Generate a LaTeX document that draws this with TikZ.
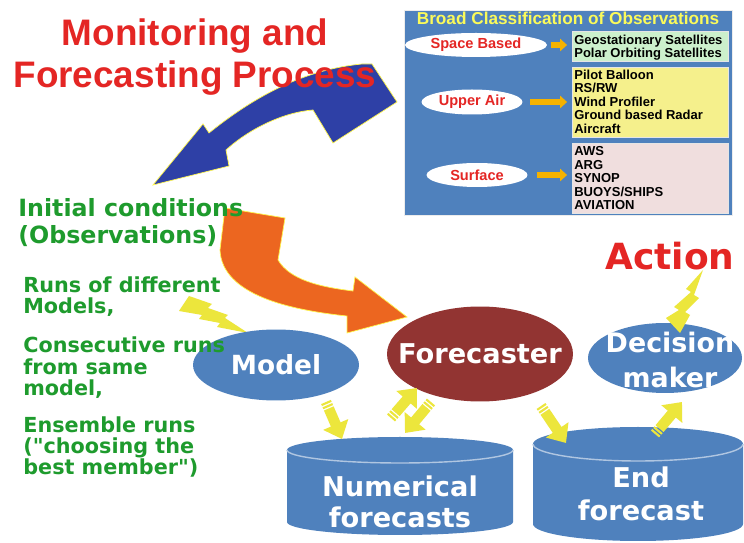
\documentclass[tikz,border=0pt]{standalone}
\usepackage{fontspec}
\setmainfont{DejaVu Sans}[Ligatures=TeXOff]
\newfontfamily\arialfont{Liberation Sans}
\usepackage{tikz}
\usetikzlibrary{shapes.geometric, arrows.meta}

\definecolor{titlered}{RGB}{228,38,36}
\definecolor{textgreen}{RGB}{30,155,45}
\definecolor{officeblue}{RGB}{79,129,189}
\definecolor{darkred}{RGB}{146,52,50}
\definecolor{arrowblue}{RGB}{46,64,166}
\definecolor{arroworange}{RGB}{236,102,32}
\definecolor{boltyellow}{RGB}{236,230,60}
\definecolor{tipyellow}{RGB}{245,178,0}
\definecolor{obsgreen}{RGB}{204,240,204}
\definecolor{obsyellow}{RGB}{245,240,140}
\definecolor{obspink}{RGB}{240,222,222}
\definecolor{obstitle}{RGB}{250,250,90}

\begin{document}
\begin{tikzpicture}[x=0.02cm, y=-0.02cm, every node/.style={inner sep=0pt},
  greentext/.style={anchor=north west, align=left, text=textgreen, font=\bfseries\fontsize{11.8}{12.2}\selectfont},
  bubble/.style={ellipse, fill=officeblue},
  labeltext/.style={text=white, align=center, font=\bfseries\fontsize{15.5}{18}\selectfont},
  obsbubble/.style={ellipse, fill=white, text=titlered, font=\arialfont\bfseries\fontsize{8.3}{9}\selectfont},
  obsbox/.style={draw=white!80!gray, anchor=north west, minimum width=3.12cm},
  obslist/.style={anchor=north west, align=left, font=\arialfont\bfseries\fontsize{7.4}{7.65}\selectfont},
  obsarrow/.style={draw=tipyellow, line width=3.4pt, -{Triangle[width=7pt, length=4pt]}},
  blockarrow/.style={draw=boltyellow, line width=6pt, -{Triangle[width=15pt, length=9pt]}, dash pattern=on 1.2pt off 0.8pt on 1.2pt off 0.8pt on 200pt off 0pt}]

\path[use as bounding box, fill=white] (0,0) rectangle (744,543);

% Observation panel
\node (panel) [draw=white!85!gray, fill=officeblue, anchor=north west, minimum width=6.56cm, minimum height=4.1cm] at (404,10) {};
\node (paneltitle) [text=obstitle, font=\arialfont\bfseries\fontsize{9.8}{11}\selectfont] at (568,18.7) {Broad Classification of Observations};

\node (space) [obsbubble, minimum width=2.84cm, minimum height=0.48cm] at (476,45) {Space Based};
\node (upper) [obsbubble, minimum width=2.02cm, minimum height=0.5cm] at (472,102) {Upper Air};
\node (surface) [obsbubble, minimum width=2.02cm, minimum height=0.48cm] at (477,175) {Surface};

\node (spacebox) [obsbox, fill=obsgreen, minimum height=0.6cm] at (572,31) {};
\node (upperbox) [obsbox, fill=obsyellow, minimum height=1.4cm] at (572,67) {};
\node (surfacebox) [obsbox, fill=obspink, minimum height=1.4cm] at (572,143) {};

\node (spacelist) [obslist] at (574,34.5) {Geostationary Satellites\\Polar Orbiting Satellites};
\node (upperlist) [obslist] at (574,69.5) {Pilot Balloon\\RS/RW\\Wind Profiler\\Ground based Radar\\Aircraft};
\node (surfacelist) [obslist] at (574,146.5) {AWS\\ARG\\SYNOP\\BUOYS/SHIPS\\AVIATION};

\draw[obsarrow, shorten <=2.3pt, shorten >=2.8pt] (space.east) -- (space.east -| spacebox.west);
\draw[obsarrow, shorten <=4pt, shorten >=2.8pt] (upper.east) -- (upper.east -| upperbox.west);
\draw[obsarrow, shorten <=5pt, shorten >=2.8pt] (surface.east) -- (surface.east -| surfacebox.west);

% Big curved arrows
\filldraw[fill=arrowblue, draw=yellow!70!white, line width=0.4pt] (153,185) -- (203,124) -- (209,133)
  .. controls (250,100) and (300,70) .. (362,64) -- (372,64) -- (397,102) -- (333,143) -- (313,110)
  .. controls (285,112) and (250,128) .. (226,150) -- (229,166) -- cycle;
\filldraw[fill=arroworange, draw=yellow!70!white, line width=0.4pt] (225,208) -- (285,218) -- (278,260)
  .. controls (290,280) and (320,287) .. (353,291) -- (355,277) -- (407,317) -- (347,333) -- (347,316)
  .. controls (290,310) and (222,295) .. (220,250) -- cycle;

% Lightning to the model
\fill[boltyellow] (189,296) -- (212,304) -- (208,308) -- (228,315) -- (225,318) -- (248,333)
  -- (217,327) -- (220,323) -- (199,319) -- (202,315) -- (179,311) -- cycle;

% Nodes
\node (model) [bubble, minimum width=3.32cm, minimum height=1.42cm] at (276,365) {};
\node (forecaster) [ellipse, fill=darkred, minimum width=3.72cm, minimum height=1.9cm] at (480,354) {};
\node (decision) [bubble, minimum width=3.08cm, minimum height=1.4cm] at (665,358) {};

% Lightning to the action
\fill[boltyellow] (703,270) -- (686,289) -- (691,292) -- (674,307) -- (679,310) -- (666,318)
  -- (680,333) -- (690,315) -- (685,312) -- (699,298) -- (694,295) -- cycle;

% Cylinders
\fill[officeblue] (287,450) -- (287,522) arc[start angle=180, end angle=0, x radius=113, y radius=13]
  -- (513,450) arc[start angle=0, end angle=-180, x radius=113, y radius=13] -- cycle;
\draw[white!55!officeblue, line width=0.8pt] (287,450) arc[start angle=180, end angle=0, x radius=113, y radius=13];
\fill[officeblue] (533,444) -- (533,524) arc[start angle=180, end angle=0, x radius=105, y radius=17]
  -- (743,444) arc[start angle=0, end angle=-180, x radius=105, y radius=17] -- cycle;
\draw[white!55!officeblue, line width=0.8pt] (533,444) arc[start angle=180, end angle=0, x radius=105, y radius=17];

% Arrows
\coordinate (model out) at (326,402);
\coordinate (num in) at (342,439);
\coordinate (num out) at (391,418);
\coordinate (fc in) at (417,388);
\coordinate (fc out) at (431,402);
\coordinate (num back) at (405,433);
\coordinate (fc down) at (541,406);
\coordinate (end in) at (566,443);
\coordinate (end out) at (655,434);
\coordinate (dm in) at (682,402);
\draw[blockarrow] (model out) -- (num in);
\draw[blockarrow] (num out) -- (fc in);
\draw[blockarrow] (fc out) -- (num back);
\draw[blockarrow] (fc down) -- (end in);
\draw[blockarrow] (end out) -- (dm in);

% Texts
\node (title) [anchor=north, align=center, text=titlered, font=\arialfont\bfseries\fontsize{21}{23.8}\selectfont] at (195,18.5) {Monitoring and\\Forecasting Process};
\node (initial) [greentext, font=\bfseries\fontsize{13.5}{15.3}\selectfont] at (18,198) {Initial conditions\\(Observations)};
\node (runs) [greentext] at (23,276) {Runs of different\\Models,};
\node (consec) [greentext] at (23,336.6) {Consecutive runs\\from same\\model,};
\node (ensemble) [greentext] at (23,416) {Ensemble runs\\("choosing the\\best member")};
\node (action) [anchor=base, text=titlered, font=\bfseries\fontsize{20.5}{24}\selectfont] at (670,270) {Action};

\node (modeltext) [labeltext, font=\bfseries\fontsize{15}{18}\selectfont] at (model) {Model};
\node (fctext) [labeltext] at (forecaster) {Forecaster};
\node (dmtext) [labeltext, font=\bfseries\fontsize{15.3}{19.8}\selectfont] at (670,360) {Decision\\maker};
\node (numfc) [labeltext, anchor=north] at (400,475) {Numerical\\forecasts};
\node (endfc) [labeltext, anchor=north, font=\bfseries\fontsize{15.5}{18.9}\selectfont] at (641,466) {End\\forecast};

\end{tikzpicture}
\end{document}
